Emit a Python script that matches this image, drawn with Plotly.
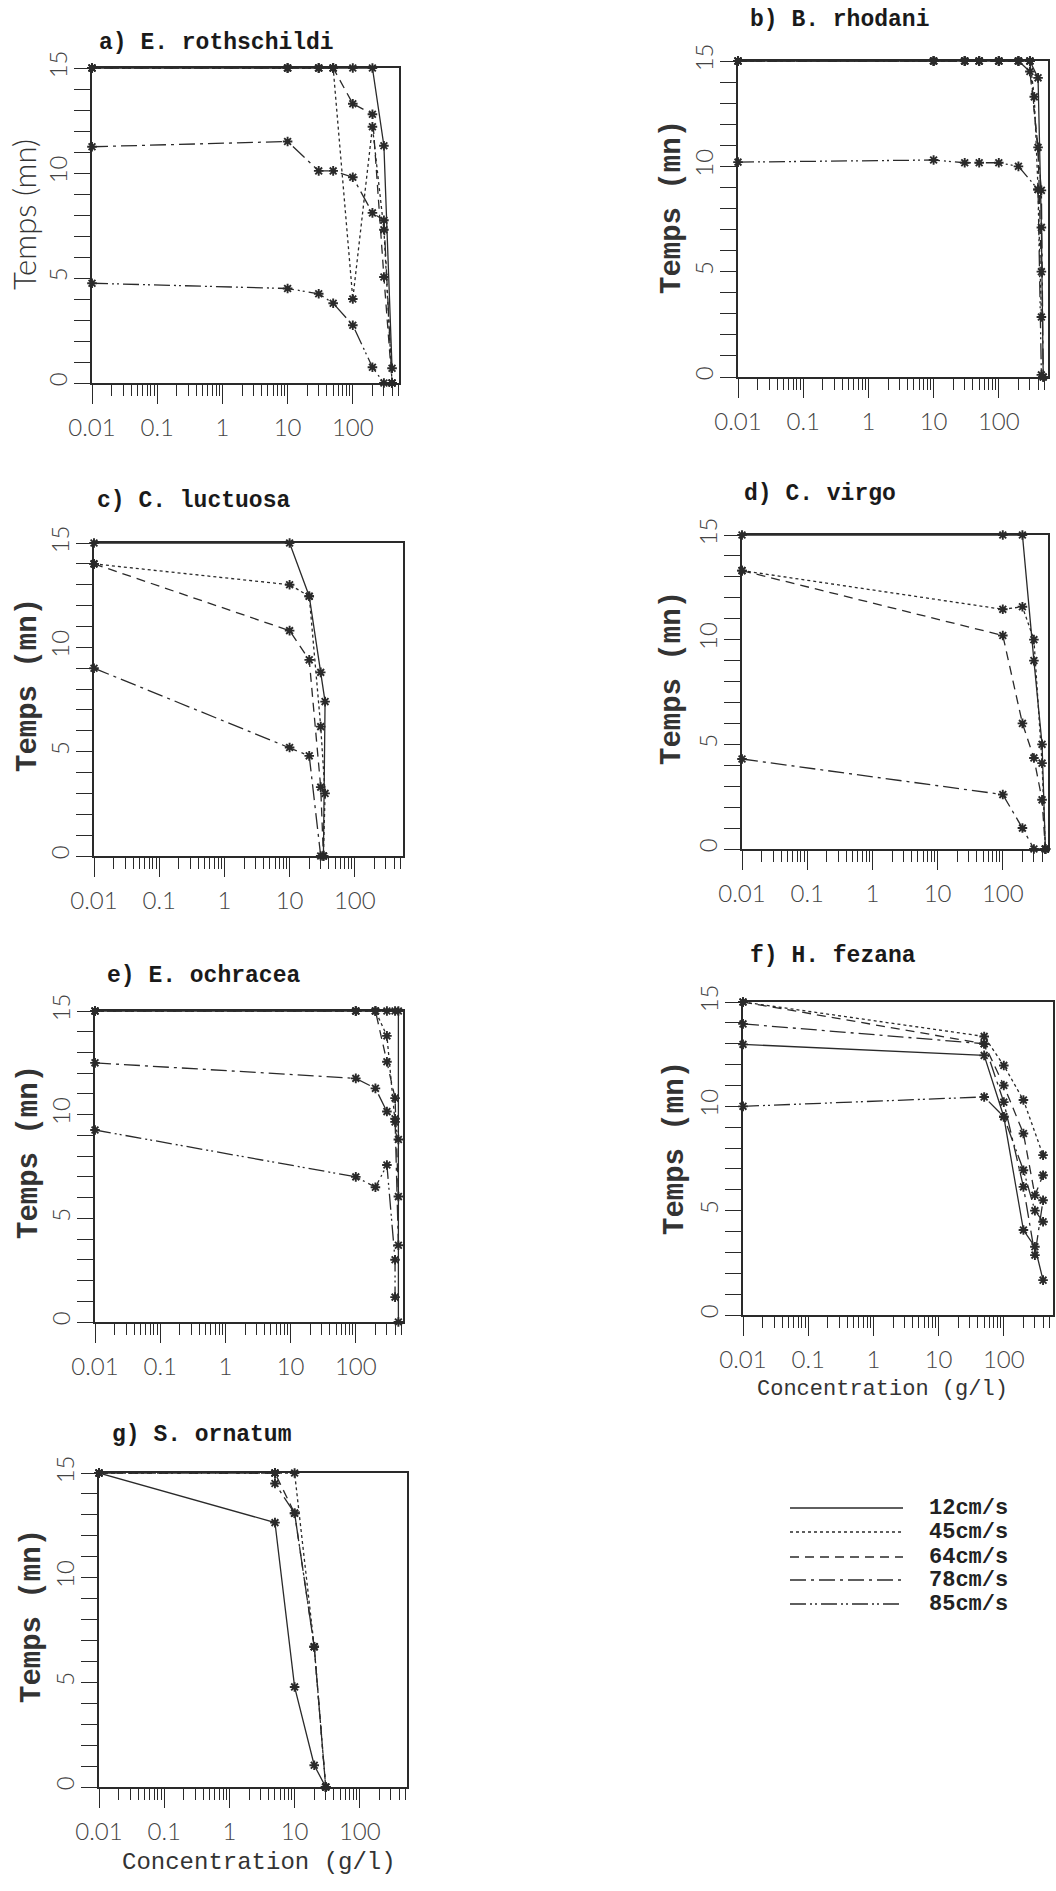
import plotly.graph_objects as go

W, H = 1056, 1891

SERIES = ["12cm/s", "45cm/s", "64cm/s", "78cm/s", "85cm/s"]
DASH = {
    "12cm/s": "solid",
    "45cm/s": "3px,3px",
    "64cm/s": "9px,6px",
    "78cm/s": "16px,5px,3px,5px",
    "85cm/s": "16px,4px,2px,3px,2px,4px",
}

# ---- data: concentration (g/l) and time (mn) per speed, per panel ----
panel_a = {
    "12cm/s": ([0.01, 10, 30, 50, 100, 200, 300, 400], [15, 15, 15, 15, 15, 15, 11.3, 0.7]),
    "45cm/s": ([0.01, 10, 30, 50, 100, 200, 300, 400], [15, 15, 15, 15, 4.0, 12.2, 7.3, 0]),
    "64cm/s": ([0.01, 10, 30, 50, 100, 200, 300, 400], [15, 15, 15, 15, 13.3, 12.8, 5.05, 0]),
    "78cm/s": ([0.01, 10, 30, 50, 100, 200, 300, 400], [11.25, 11.5, 10.1, 10.1, 9.8, 8.1, 7.75, 0]),
    "85cm/s": ([0.01, 10, 30, 50, 100, 200, 300], [4.75, 4.5, 4.25, 3.8, 2.75, 0.75, 0]),
}
panel_b = {
    "12cm/s": ([0.01, 10, 30, 50, 100, 200, 300, 400, 450, 480], [15, 15, 15, 15, 15, 15, 15, 14.2, 7.1, 0]),
    "45cm/s": ([0.01, 10, 30, 50, 100, 200, 300, 350, 400, 450], [15, 15, 15, 15, 15, 15, 15, 13.3, 8.9, 2.85]),
    "64cm/s": ([0.01, 10, 30, 50, 100, 200, 300, 400, 450], [15, 15, 15, 15, 15, 15, 14.5, 10.9, 5.0]),
    "78cm/s": ([0.01, 10, 30, 50, 100, 200, 300, 450, 480], [15, 15, 15, 15, 15, 15, 15, 8.86, 0]),
    "85cm/s": ([0.01, 10, 30, 50, 100, 200, 400, 450], [10.2, 10.3, 10.17, 10.17, 10.17, 10.0, 8.9, 0.1]),
}
panel_c = {
    "12cm/s": ([0.01, 10, 20, 30, 35, 33], [15, 15, 12.45, 8.8, 7.4, 0]),
    "45cm/s": ([0.01, 10, 20, 30, 35, 33], [14, 13, 12.45, 6.2, 3.0, 0]),
    "64cm/s": ([0.01, 10, 20, 30, 33], [14, 10.8, 9.4, 3.3, 0]),
    "78cm/s": ([0.01, 10, 20, 30], [9, 5.2, 4.8, 0]),
}
panel_d = {
    "12cm/s": ([0.01, 100, 200, 300, 400, 450], [15, 15, 15, 9.0, 5.0, 0]),
    "45cm/s": ([0.01, 100, 200, 300, 400, 450], [13.3, 11.45, 11.57, 10.0, 4.1, 0]),
    "64cm/s": ([0.01, 100, 200, 300, 400, 450], [13.3, 10.2, 6.0, 4.35, 2.35, 0]),
    "78cm/s": ([0.01, 100, 200, 300, 450], [4.3, 2.6, 1.0, 0, 0]),
}
panel_e = {
    "12cm/s": ([0.01, 100, 200, 300, 400, 450, 450], [15, 15, 15, 15, 15, 15, 0]),
    "45cm/s": ([0.01, 100, 200, 300, 400, 450], [15, 15, 15, 13.8, 9.65, 8.8]),
    "64cm/s": ([0.01, 100, 200, 300, 400, 450], [15, 15, 15, 12.55, 10.8, 6.05]),
    "78cm/s": ([0.01, 100, 200, 300, 400, 450], [12.5, 11.75, 11.27, 10.15, 9.8, 3.7]),
    "85cm/s": ([0.01, 100, 200, 300, 400, 400], [9.26, 7.0, 6.5, 7.57, 3.0, 1.2]),
}
panel_f = {
    "12cm/s": ([0.01, 50, 100, 200, 300, 400], [12.97, 12.44, 9.5, 4.07, 3.27, 1.67]),
    "45cm/s": ([0.01, 50, 100, 200, 400], [15, 13.35, 11.96, 10.3, 7.66]),
    "64cm/s": ([0.01, 50, 100, 200, 300, 400], [15, 13.0, 11.0, 8.7, 5.74, 6.7]),
    "78cm/s": ([0.01, 50, 100, 200, 300, 400], [13.95, 13.0, 10.2, 6.14, 2.87, 5.5]),
    "85cm/s": ([0.01, 50, 100, 200, 300, 400], [10.0, 10.45, 9.5, 6.94, 5.0, 4.47]),
}
panel_g = {
    "12cm/s": ([0.01, 5, 10, 20, 30], [15, 12.63, 4.78, 1.04, 0]),
    "45cm/s": ([0.01, 5, 10, 20, 30], [15, 15, 15, 6.7, 0]),
    "64cm/s": ([0.01, 5, 10, 20, 30], [15, 15, 13.08, 6.7, 0]),
    "78cm/s": ([0.01, 5, 5, 10, 20, 30], [15, 15, 14.5, 13.08, 6.7, 0]),
}

TITLES = ["a) E. rothschildi", "b) B. rhodani", "c) C. luctuosa", "d) C. virgo",
          "e) E. ochracea", "f) H. fezana", "g) S. ornatum"]
PANELS = [panel_a, panel_b, panel_c, panel_d, panel_e, panel_f, panel_g]

X_TICKS = [0.01, 0.1, 1, 10, 100]
X_TICKTEXT = ["0.01", "0.1", "1", "10", "100"]
Y_TICKS = [0, 5, 10, 15]
X_MINOR = [m * 10 ** e for e in range(-2, 3) for m in range(2, 10)]

# ---- layout geometry (pixels) ----
BOX = [  # left, right, top, bottom
    (92, 399, 68, 383),
    (738, 1048, 61, 377),
    (94, 403, 543, 856),
    (742, 1048, 535, 849),
    (95, 403, 1011, 1322),
    (743, 1053, 1002, 1315),
    (99, 407, 1473, 1787),
]
TITLE_POS = [(97, 43), (748, 20), (95, 501), (742, 494), (105, 976), (748, 956), (110, 1435)]
YTITLE_POS = [(24, 215), (672, 207), (29, 685), (673, 678), (29, 1152), (675, 1148), (32, 1616)]
DECADE_PX = 65.2

MONO = "Liberation Mono, Courier New, monospace"
SANS_LIGHT = "Lato, Open Sans, Liberation Sans, sans-serif"
INK = "#2a2a2a"

fig = go.Figure()
layout = dict(
    template="none",
    width=W, height=H, autosize=False,
    margin=dict(l=0, r=0, t=0, b=0, pad=0),
    paper_bgcolor="white", plot_bgcolor="white",
    showlegend=False,
)
annotations = []
shapes = []

for i, (panel, box) in enumerate(zip(PANELS, BOX)):
    n = i + 1
    xa = "x" if n == 1 else f"x{n}"
    ya = "y" if n == 1 else f"y{n}"
    l, r, t, b = box
    xmax = -2 + (r - l) / DECADE_PX
    for s in SERIES:
        if s not in panel:
            continue
        xs, ys = panel[s]
        fig.add_trace(go.Scatter(
            x=xs, y=ys, xaxis=xa, yaxis=ya, mode="lines+markers", name=s,
            line=dict(color=INK, width=1.3, dash=DASH[s]),
            marker=dict(symbol="asterisk-open", size=8, line=dict(color="#111", width=1.9)),
            cliponaxis=False,
        ))
    common_axis = dict(showgrid=False, zeroline=False, showline=True, mirror=True,
                       automargin=False,
                       linecolor=INK, linewidth=1.5, tickcolor=INK, tickwidth=1.3)
    layout["xaxis" if n == 1 else f"xaxis{n}"] = dict(
        common_axis, type="log", range=[-2, xmax], domain=[l / W, r / W], anchor=ya,
        tickvals=X_TICKS, ticktext=X_TICKTEXT, ticks="outside", ticklen=19,
        tickfont=dict(family=SANS_LIGHT, size=24, color="#444", weight=300),
        ticklabelstandoff=3,
        minor=dict(tickvals=X_MINOR, ticks="outside", ticklen=11, tickwidth=1.1, tickcolor=INK),
    )
    layout["yaxis" if n == 1 else f"yaxis{n}"] = dict(
        common_axis, range=[0, 15], domain=[1 - b / H, 1 - t / H], anchor=xa,
        tickvals=Y_TICKS, ticks="outside", ticklen=16, tickangle=-90,
        tickfont=dict(family=SANS_LIGHT, size=24, color="#444", weight=300),
        ticklabelstandoff=-2,
        minor=dict(dtick=1, ticks="outside", ticklen=16, tickwidth=1.3, tickcolor=INK),
    )
    tx, ty = TITLE_POS[i]
    annotations.append(dict(
        text=TITLES[i], x=tx / W, y=1 - ty / H, xref="paper", yref="paper",
        xanchor="left", yanchor="middle", showarrow=False,
        font=dict(family=MONO, size=23, color="#1a1a1a", weight="bold"),
    ))
    yx, yy = YTITLE_POS[i]
    annotations.append(dict(
        text="Temps (mn)", x=yx / W, y=1 - yy / H, xref="paper", yref="paper",
        xanchor="center", yanchor="middle", showarrow=False, textangle=-90,
        font=dict(family=(SANS_LIGHT if i == 0 else MONO), size=(31 if i == 0 else 29),
                  color="#333", weight=(300 if i == 0 else "bold")),
    ))

# x-axis titles (panels f and g)
for (cx, cy, fs) in [(882, 1389, 22), (259, 1862, 24)]:
    annotations.append(dict(
        text="Concentration (g/l)", x=cx / W, y=1 - cy / H, xref="paper", yref="paper",
        xanchor="center", yanchor="middle", showarrow=False,
        font=dict(family=MONO, size=fs, color="#333"),
    ))

# legend (line samples + labels)
LEG_X0, LEG_X1, LEG_TX = 790, 903, 927
LEG_Y = [1508, 1532, 1557, 1580, 1604]
for s, ly in zip(SERIES, LEG_Y):
    shapes.append(dict(type="line", xref="paper", yref="paper",
                       x0=LEG_X0 / W, x1=LEG_X1 / W, y0=1 - ly / H, y1=1 - ly / H,
                       line=dict(color=INK, width=1.3, dash=DASH[s])))
    annotations.append(dict(
        text=s, x=LEG_TX / W, y=1 - ly / H, xref="paper", yref="paper",
        xanchor="left", yanchor="middle", showarrow=False,
        font=dict(family=MONO, size=22, color="#222", weight="bold"),
    ))

layout["annotations"] = annotations
layout["shapes"] = shapes
fig.update_layout(**layout)

fig.write_html("out.html", config={"displayModeBar": False},
               post_script="document.body.style.margin='0';")
